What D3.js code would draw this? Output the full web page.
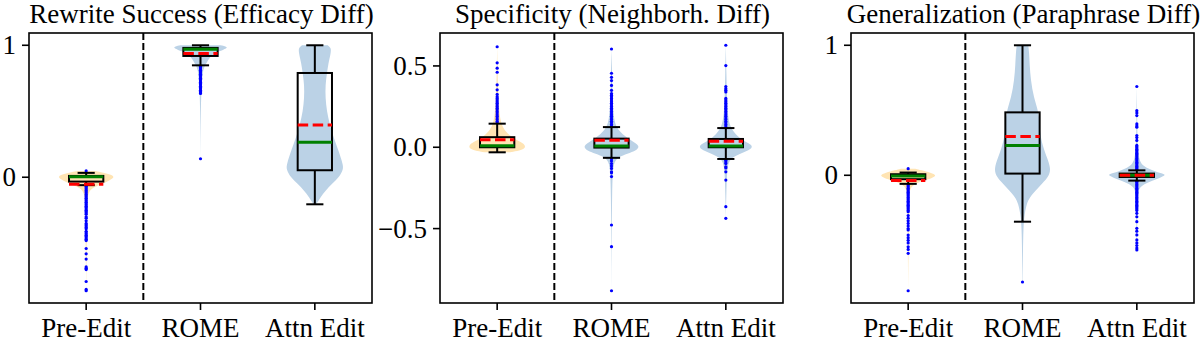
<!DOCTYPE html>
<html><head><meta charset="utf-8">
<script src="https://cdn.jsdelivr.net/npm/d3@7"></script>
<style>
body{margin:0;background:#fff;}
svg{display:block;}
text{font-family:"Liberation Serif","Times New Roman",serif;fill:#000;}
</style>
</head><body>
<svg id="chart" width="1202" height="350"></svg>
<script>
// ---------------- DATA ----------------
const categories = ["Pre-Edit", "ROME", "Attn Edit"];
const panelTitles = ["Rewrite Success (Efficacy Diff)", "Specificity (Neighborh. Diff)", "Generalization (Paraphrase Diff)"];

const effTicks = [0, 1];
const effTickLabels = ["0", "1"];
const specTicks = [-0.5, 0, 0.5];
const specTickLabels = ["\u22120.5", "0.0", "0.5"];
const genTicks = [0, 1];
const genTickLabels = ["0", "1"];

// box stats per category: [whiskerLow, q1, median, q3, whiskerHigh]
const effStats = [
  [-0.06, -0.033, 0.004, 0.01, 0.033],
  [0.848, 0.919, 0.97, 0.98, 1.0],
  [-0.205, 0.053, 0.265, 0.79, 1.0]
];
const effMeans = [-0.053, 0.937, 0.396];
const specStats = [
  [-0.031, 0.0, 0.01, 0.062, 0.145],
  [-0.065, -0.002, 0.008, 0.053, 0.124],
  [-0.072, 0.0, 0.008, 0.051, 0.118]
];
const specMeans = [0.046, 0.043, 0.037];
const genStats = [
  [-0.066, -0.03, -0.005, 0.008, 0.021],
  [-0.357, 0.013, 0.23, 0.484, 1.0],
  [-0.041, -0.013, 0.0, 0.013, 0.038]
];
const genMeans = [-0.041, 0.298, 0.0];

// outlier points per category
const effOutliers = [
  [0.048, -0.065, -0.07, -0.08, -0.09, -0.1, -0.11, -0.12, -0.13, -0.14, -0.15, -0.16, -0.17, -0.18, -0.19, -0.2,
   -0.21, -0.22, -0.23, -0.24, -0.25, -0.26, -0.27, -0.28, -0.3, -0.31, -0.33, -0.35, -0.36, -0.37, -0.38, -0.39,
   -0.41, -0.42, -0.43, -0.44, -0.45, -0.46, -0.47, -0.48, -0.54, -0.58, -0.62, -0.68, -0.69, -0.7, -0.79, -0.85, -0.86],
  [0.84, 0.83, 0.82, 0.81, 0.8, 0.79, 0.78, 0.77, 0.76, 0.75, 0.74, 0.73, 0.72, 0.71, 0.7, 0.69, 0.68, 0.67, 0.66,
   0.65, 0.64, 0.635, 0.14],
  []
];
const specOutliers = [
  [0.15, 0.16, 0.17, 0.18, 0.19, 0.2, 0.21, 0.22, 0.23, 0.24, 0.25, 0.26, 0.27, 0.28, 0.29, 0.3, 0.31,
   0.325, 0.353, 0.384, 0.461, 0.486, 0.519, 0.618],
  [0.13, 0.14, 0.15, 0.16, 0.17, 0.18, 0.19, 0.2, 0.21, 0.22, 0.23, 0.24, 0.25, 0.26, 0.27, 0.28, 0.29, 0.3,
   0.31, 0.32, 0.33, 0.35, 0.38, 0.41, 0.43, 0.455, 0.604,
   -0.07, -0.084, -0.1, -0.115, -0.13, -0.151, -0.157, -0.18, -0.478, -0.611, -0.882],
  [0.12, 0.13, 0.14, 0.15, 0.16, 0.17, 0.18, 0.19, 0.2, 0.21, 0.22, 0.23, 0.24, 0.25, 0.26, 0.27, 0.28, 0.29,
   0.3, 0.34, 0.35, 0.36, 0.373, 0.502, 0.627,
   -0.08, -0.09, -0.1, -0.12, -0.127, -0.151, -0.202, -0.365, -0.437]
];
const genOutliers = [
  [0.051, -0.07, -0.08, -0.09, -0.1, -0.11, -0.12, -0.13, -0.14, -0.15, -0.16, -0.17, -0.18, -0.19, -0.2, -0.21,
   -0.22, -0.23, -0.24, -0.25, -0.26, -0.27, -0.28, -0.31, -0.33, -0.35, -0.37, -0.39, -0.41, -0.42, -0.46, -0.48,
   -0.5, -0.52, -0.55, -0.57, -0.6, -0.888],
  [-0.821],
  [0.683, 0.497, 0.48, 0.459, 0.395, 0.38, 0.37, 0.306, 0.29, 0.268, 0.23, 0.22, 0.21, 0.2, 0.19, 0.18, 0.17, 0.16,
   0.15, 0.14, 0.13, 0.12, 0.11, 0.1, 0.09, 0.08, 0.07, 0.06, 0.05, 0.045,
   -0.045, -0.05, -0.06, -0.07, -0.08, -0.09, -0.1, -0.11, -0.12, -0.13, -0.14, -0.15, -0.16, -0.17, -0.18, -0.19,
   -0.2, -0.21, -0.22, -0.23, -0.24, -0.25, -0.26, -0.27, -0.293, -0.319, -0.357, -0.408, -0.43, -0.459, -0.497,
   -0.52, -0.54, -0.56, -0.574]
];

// violin profiles: [value, relative half-width]
const effViolins = [
  [[0.048, 0.3], [0.035, 0.6], [0.02, 0.88], [0.0, 1.0], [-0.025, 0.82], [-0.05, 0.55], [-0.08, 0.22], [-0.11, 0.1],
   [-0.15, 0.05], [-0.25, 0.03], [-0.45, 0.02], [-0.65, 0.01], [-0.86, 0.0]],
  [[1.0, 0.7], [0.985, 1.0], [0.965, 0.8], [0.945, 0.5], [0.92, 0.38], [0.9, 0.3], [0.87, 0.22], [0.84, 0.14],
   [0.8, 0.08], [0.72, 0.05], [0.65, 0.03], [0.5, 0.01], [0.14, 0.0]],
  [[1.0, 0.45], [0.98, 0.57], [0.94, 0.56], [0.86, 0.47], [0.78, 0.42], [0.7, 0.37], [0.6, 0.37], [0.5, 0.42],
   [0.4, 0.52], [0.3, 0.66], [0.2, 0.83], [0.1, 0.98], [0.06, 1.0], [0.0, 0.85], [-0.05, 0.6], [-0.1, 0.38],
   [-0.15, 0.2], [-0.205, 0.05]]
];
const specViolins = [
  [[0.618, 0.0], [0.5, 0.01], [0.35, 0.03], [0.25, 0.06], [0.18, 0.1], [0.14, 0.16], [0.1, 0.27], [0.06, 0.52],
   [0.03, 0.85], [0.01, 1.0], [-0.01, 0.95], [-0.02, 0.8], [-0.031, 0.45]],
  [[0.604, 0.0], [0.45, 0.02], [0.3, 0.04], [0.2, 0.07], [0.15, 0.12], [0.12, 0.19], [0.08, 0.37], [0.04, 0.7],
   [0.01, 1.0], [-0.02, 0.88], [-0.04, 0.55], [-0.06, 0.25], [-0.09, 0.09], [-0.15, 0.04], [-0.3, 0.02],
   [-0.5, 0.01], [-0.882, 0.0]],
  [[0.627, 0.0], [0.45, 0.02], [0.3, 0.04], [0.2, 0.07], [0.15, 0.12], [0.12, 0.18], [0.08, 0.33], [0.04, 0.6],
   [0.01, 1.0], [-0.02, 0.8], [-0.04, 0.5], [-0.06, 0.25], [-0.09, 0.09], [-0.15, 0.04], [-0.3, 0.015], [-0.437, 0.0]]
];
const genViolins = [
  [[0.051, 0.25], [0.04, 0.45], [0.02, 0.8], [0.0, 1.0], [-0.02, 0.85], [-0.04, 0.55], [-0.06, 0.3], [-0.085, 0.12],
   [-0.12, 0.05], [-0.2, 0.03], [-0.4, 0.02], [-0.6, 0.01], [-0.888, 0.0]],
  [[1.0, 0.2], [0.95, 0.23], [0.85, 0.25], [0.73, 0.29], [0.6, 0.39], [0.49, 0.56], [0.4, 0.6], [0.3, 0.62],
   [0.2, 0.75], [0.14, 0.85], [0.05, 1.0], [-0.013, 0.91], [-0.06, 0.7], [-0.115, 0.47], [-0.17, 0.25],
   [-0.217, 0.15], [-0.3, 0.07], [-0.4, 0.03], [-0.6, 0.015], [-0.821, 0.005]],
  [[0.683, 0.0], [0.5, 0.01], [0.3, 0.02], [0.2, 0.04], [0.12, 0.08], [0.08, 0.18], [0.05, 0.4], [0.03, 0.65],
   [0.01, 0.95], [0.0, 1.0], [-0.02, 0.8], [-0.04, 0.56], [-0.06, 0.35], [-0.08, 0.18], [-0.1, 0.08],
   [-0.15, 0.04], [-0.3, 0.02], [-0.574, 0.0]]
];

const violinColors = ["#ffe4b3", "#bbd2e6", "#bbd2e6"];

// ---------------- DRAW ----------------
const svg = d3.select("#chart");
const plotTop = 33, plotBottom = 303;
const panels = [
  {title: panelTitles[0], x0: 29, x1: 372, stats: effStats, means: effMeans, outliers: effOutliers, violins: effViolins, ticks: effTicks, labels: effTickLabels},
  {title: panelTitles[1], x0: 440, x1: 783, stats: specStats, means: specMeans, outliers: specOutliers, violins: specViolins, ticks: specTicks, labels: specTickLabels},
  {title: panelTitles[2], x0: 851, x1: 1194, stats: genStats, means: genMeans, outliers: genOutliers, violins: genViolins, ticks: genTicks, labels: genTickLabels}
];

panels.forEach(p => {
  const g = svg.append("g");
  const x = d3.scaleLinear().domain([0.5, 3.5]).range([p.x0, p.x1]);
  const vals = [...p.stats.flat(), ...p.outliers.flat()];
  const lo = d3.min(vals), hi = d3.max(vals), pad = (hi - lo) * 0.05;
  const y = d3.scaleLinear().domain([lo - pad, hi + pad]).range([plotBottom, plotTop]);
  const hw = x(1.25) - x(1);

  const clip = "clip" + p.x0;
  svg.append("clipPath").attr("id", clip).append("rect")
    .attr("x", p.x0).attr("y", plotTop).attr("width", p.x1 - p.x0).attr("height", plotBottom - plotTop);
  const inner = g.append("g").attr("clip-path", `url(#${clip})`);

  // separator
  inner.append("line").attr("x1", x(1.5)).attr("x2", x(1.5)).attr("y1", plotTop).attr("y2", plotBottom)
    .attr("stroke", "#000").attr("stroke-width", 2).attr("stroke-dasharray", "7,3");

  categories.forEach((c, i) => {
    const cx = x(i + 1);
    const area = d3.area().curve(d3.curveBasis)
      .y(d => y(d[0])).x0(d => cx - d[1] * hw).x1(d => cx + d[1] * hw);
    inner.append("path").attr("d", area(p.violins[i])).attr("fill", violinColors[i]);

    inner.selectAll(null).data(p.outliers[i]).enter().append("circle")
      .attr("cx", cx).attr("cy", d => y(d)).attr("r", 1.6).attr("fill", "#0000ff");

    const [wl, q1, med, q3, wh] = p.stats[i];
    const bx0 = x(i + 1 - 0.15), bx1 = x(i + 1 + 0.15);
    const cx0 = x(i + 1 - 0.075), cx1 = x(i + 1 + 0.075);
    const line = (a, b, c2, d) => inner.append("line").attr("x1", a).attr("y1", b).attr("x2", c2).attr("y2", d)
      .attr("stroke", "#000").attr("stroke-width", 2);
    line(cx, y(q3), cx, y(wh));
    line(cx, y(q1), cx, y(wl));
    line(cx0, y(wh), cx1, y(wh));
    line(cx0, y(wl), cx1, y(wl));
    inner.append("rect").attr("x", bx0).attr("y", y(q3)).attr("width", bx1 - bx0).attr("height", Math.max(0.5, y(q1) - y(q3)))
      .attr("fill", "none").attr("stroke", "#000").attr("stroke-width", 2);
    inner.append("line").attr("x1", bx0).attr("x2", bx1).attr("y1", y(med)).attr("y2", y(med))
      .attr("stroke", "#008000").attr("stroke-width", 3);
    inner.append("line").attr("x1", bx0).attr("x2", bx1).attr("y1", y(p.means[i])).attr("y2", y(p.means[i]))
      .attr("stroke", "#ff0000").attr("stroke-width", 3).attr("stroke-dasharray", "10.5,4.5");
  });

  // frame
  g.append("rect").attr("x", p.x0).attr("y", plotTop).attr("width", p.x1 - p.x0).attr("height", plotBottom - plotTop)
    .attr("fill", "none").attr("stroke", "#000").attr("stroke-width", 1.6);

  // y ticks
  p.ticks.forEach((t, k) => {
    g.append("line").attr("x1", p.x0 - 7).attr("x2", p.x0).attr("y1", y(t)).attr("y2", y(t))
      .attr("stroke", "#000").attr("stroke-width", 1.6);
    g.append("text").attr("x", p.x0 - 13).attr("y", y(t)).attr("dy", "0.34em")
      .attr("text-anchor", "end").attr("font-size", 27).text(p.labels[k]);
  });
  // x ticks
  categories.forEach((c, i) => {
    g.append("line").attr("x1", x(i + 1)).attr("x2", x(i + 1)).attr("y1", plotBottom).attr("y2", plotBottom + 7)
      .attr("stroke", "#000").attr("stroke-width", 1.6);
    g.append("text").attr("x", x(i + 1)).attr("y", 336.5).attr("text-anchor", "middle")
      .attr("font-size", 27).text(c);
  });
  // title
  g.append("text").attr("x", (p.x0 + p.x1) / 2 + 1).attr("y", 22.5).attr("text-anchor", "middle")
    .attr("font-size", 27).text(p.title);
});
</script>
</body></html>
